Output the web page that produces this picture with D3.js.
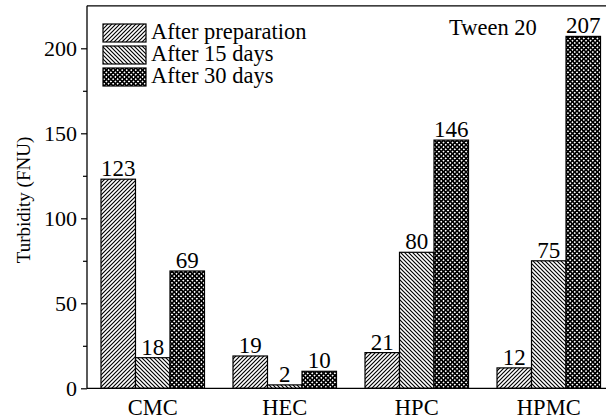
<!DOCTYPE html>
<html><head><meta charset="utf-8">
<script src="https://cdn.jsdelivr.net/npm/d3@7"></script>
<style>body{margin:0;background:#fff}svg{display:block}</style>
</head><body><svg id="c" width="606" height="419"></svg>
<script>
const categories = ["CMC","HEC","HPC","HPMC"];
const seriesNames = ["After preparation","After 15 days","After 30 days"];
const afterPreparation = [123,19,21,12];
const after15days = [18,2,80,75];
const after30days = [69,10,146,207];
const yMajorTicks = [0,50,100,150,200];
const yMinorTicks = [25,75,125,175];
const annotation = "Tween 20";
const yTitle = "Turbidity (FNU)";

const FONT = "Liberation Serif";
const series = [afterPreparation, after15days, after30days];
const svg = d3.select("#c");
const W = 606, H = 419;
const x0 = 87, yBottom = 388.3;
const y = d3.scaleLinear().domain([0,225]).range([yBottom, yBottom - 225*1.7]);
const x = d3.scaleBand().domain(categories).range([x0, 614.5]).paddingInner(0.216).paddingOuter(0.106);
const xs = d3.scaleBand().domain(d3.range(3)).range([0, x.bandwidth()]);

const defs = svg.append("defs");
function hatch(id, dir){
  const p = defs.append("pattern").attr("id",id).attr("patternUnits","userSpaceOnUse").attr("width",4).attr("height",4);
  p.append("rect").attr("width",4).attr("height",4).attr("fill","#fff");
  if(dir>0){
    p.append("path").attr("d","M-1,1 l2,-2 M0,4 l4,-4 M3,5 l2,-2").attr("stroke","#000").attr("stroke-width",1.15);
  } else {
    p.append("path").attr("d","M-1,3 l2,2 M0,0 l4,4 M3,-1 l2,2").attr("stroke","#000").attr("stroke-width",1.15);
  }
}
hatch("p0",1); hatch("p1",-1);
const cp = defs.append("pattern").attr("id","p2").attr("patternUnits","userSpaceOnUse")
  .attr("width",3.2).attr("height",3.2).attr("patternTransform","rotate(45)");
cp.append("rect").attr("width",3.2).attr("height",3.2).attr("fill","#000");
cp.append("rect").attr("x",0.8).attr("y",0.8).attr("width",1.6).attr("height",1.6).attr("fill","#fff");
const fills = ["url(#p0)","url(#p1)","url(#p2)"];

function txt(sel){ return sel.attr("font-family",FONT).attr("fill","#000"); }

// bars
categories.forEach((c,ci)=>{
  series.forEach((s,si)=>{
    const bx = x(c) + xs(si), v = s[ci];
    svg.append("rect").attr("x",bx).attr("y",y(v)).attr("width",xs.bandwidth()).attr("height",y(0)-y(v))
      .attr("fill",fills[si]).attr("stroke","#000").attr("stroke-width",1.2);
    txt(svg.append("text")).attr("x",bx + xs.bandwidth()/2).attr("y",y(v)-3).attr("text-anchor","middle")
      .attr("font-size",23).text(v);
  });
});

// axes
const yAxis = svg.append("g").attr("transform",`translate(${x0},0)`)
  .call(d3.axisLeft(y).tickValues(yMajorTicks).tickSize(6).tickPadding(4).tickFormat(d3.format("d")));
yAxis.attr("font-family",FONT);
yAxis.select(".domain").remove();
yAxis.selectAll("line").attr("stroke-width",1.2);
txt(yAxis.selectAll("text")).attr("font-size",22).attr("dy","0.33em");
const yMinor = svg.append("g").attr("transform",`translate(${x0},0)`)
  .call(d3.axisLeft(y).tickValues(yMinorTicks).tickSize(4).tickFormat(""));
yMinor.select(".domain").remove();
yMinor.selectAll("line").attr("stroke-width",1.2);

svg.append("line").attr("x1",x0).attr("x2",x0).attr("y1",y(225)).attr("y2",yBottom).attr("stroke","#000").attr("stroke-width",1.3);
svg.append("line").attr("x1",x0).attr("x2",W).attr("y1",y(225)).attr("y2",y(225)).attr("stroke","#000").attr("stroke-width",1.3);
svg.append("line").attr("x1",x0).attr("x2",W).attr("y1",yBottom).attr("y2",yBottom).attr("stroke","#000").attr("stroke-width",1.3);

const xAxis = svg.append("g").attr("transform",`translate(0,${yBottom})`)
  .call(d3.axisBottom(x).tickSize(0).tickPadding(0));
xAxis.attr("font-family",FONT);
xAxis.select(".domain").remove();
txt(xAxis.selectAll("text")).attr("font-size",22.5).attr("y",27).attr("dy","0");

// y title
txt(svg.append("text")).attr("transform",`translate(30,200) rotate(-90)`)
  .attr("text-anchor","middle").attr("font-size",19).text(yTitle);

// legend
const legend = svg.append("g");
seriesNames.forEach((n,i)=>{
  const ly = 24 + i*22;
  legend.append("rect").attr("x",103).attr("y",ly).attr("width",43).attr("height",18)
    .attr("fill",fills[i]).attr("stroke","#000").attr("stroke-width",1.2);
  txt(legend.append("text")).attr("x",151).attr("y",ly+15).attr("font-size",22.5).text(n);
});

txt(svg.append("text")).attr("x",449).attr("y",35).attr("font-size",22.5).text(annotation);
</script></body></html>
